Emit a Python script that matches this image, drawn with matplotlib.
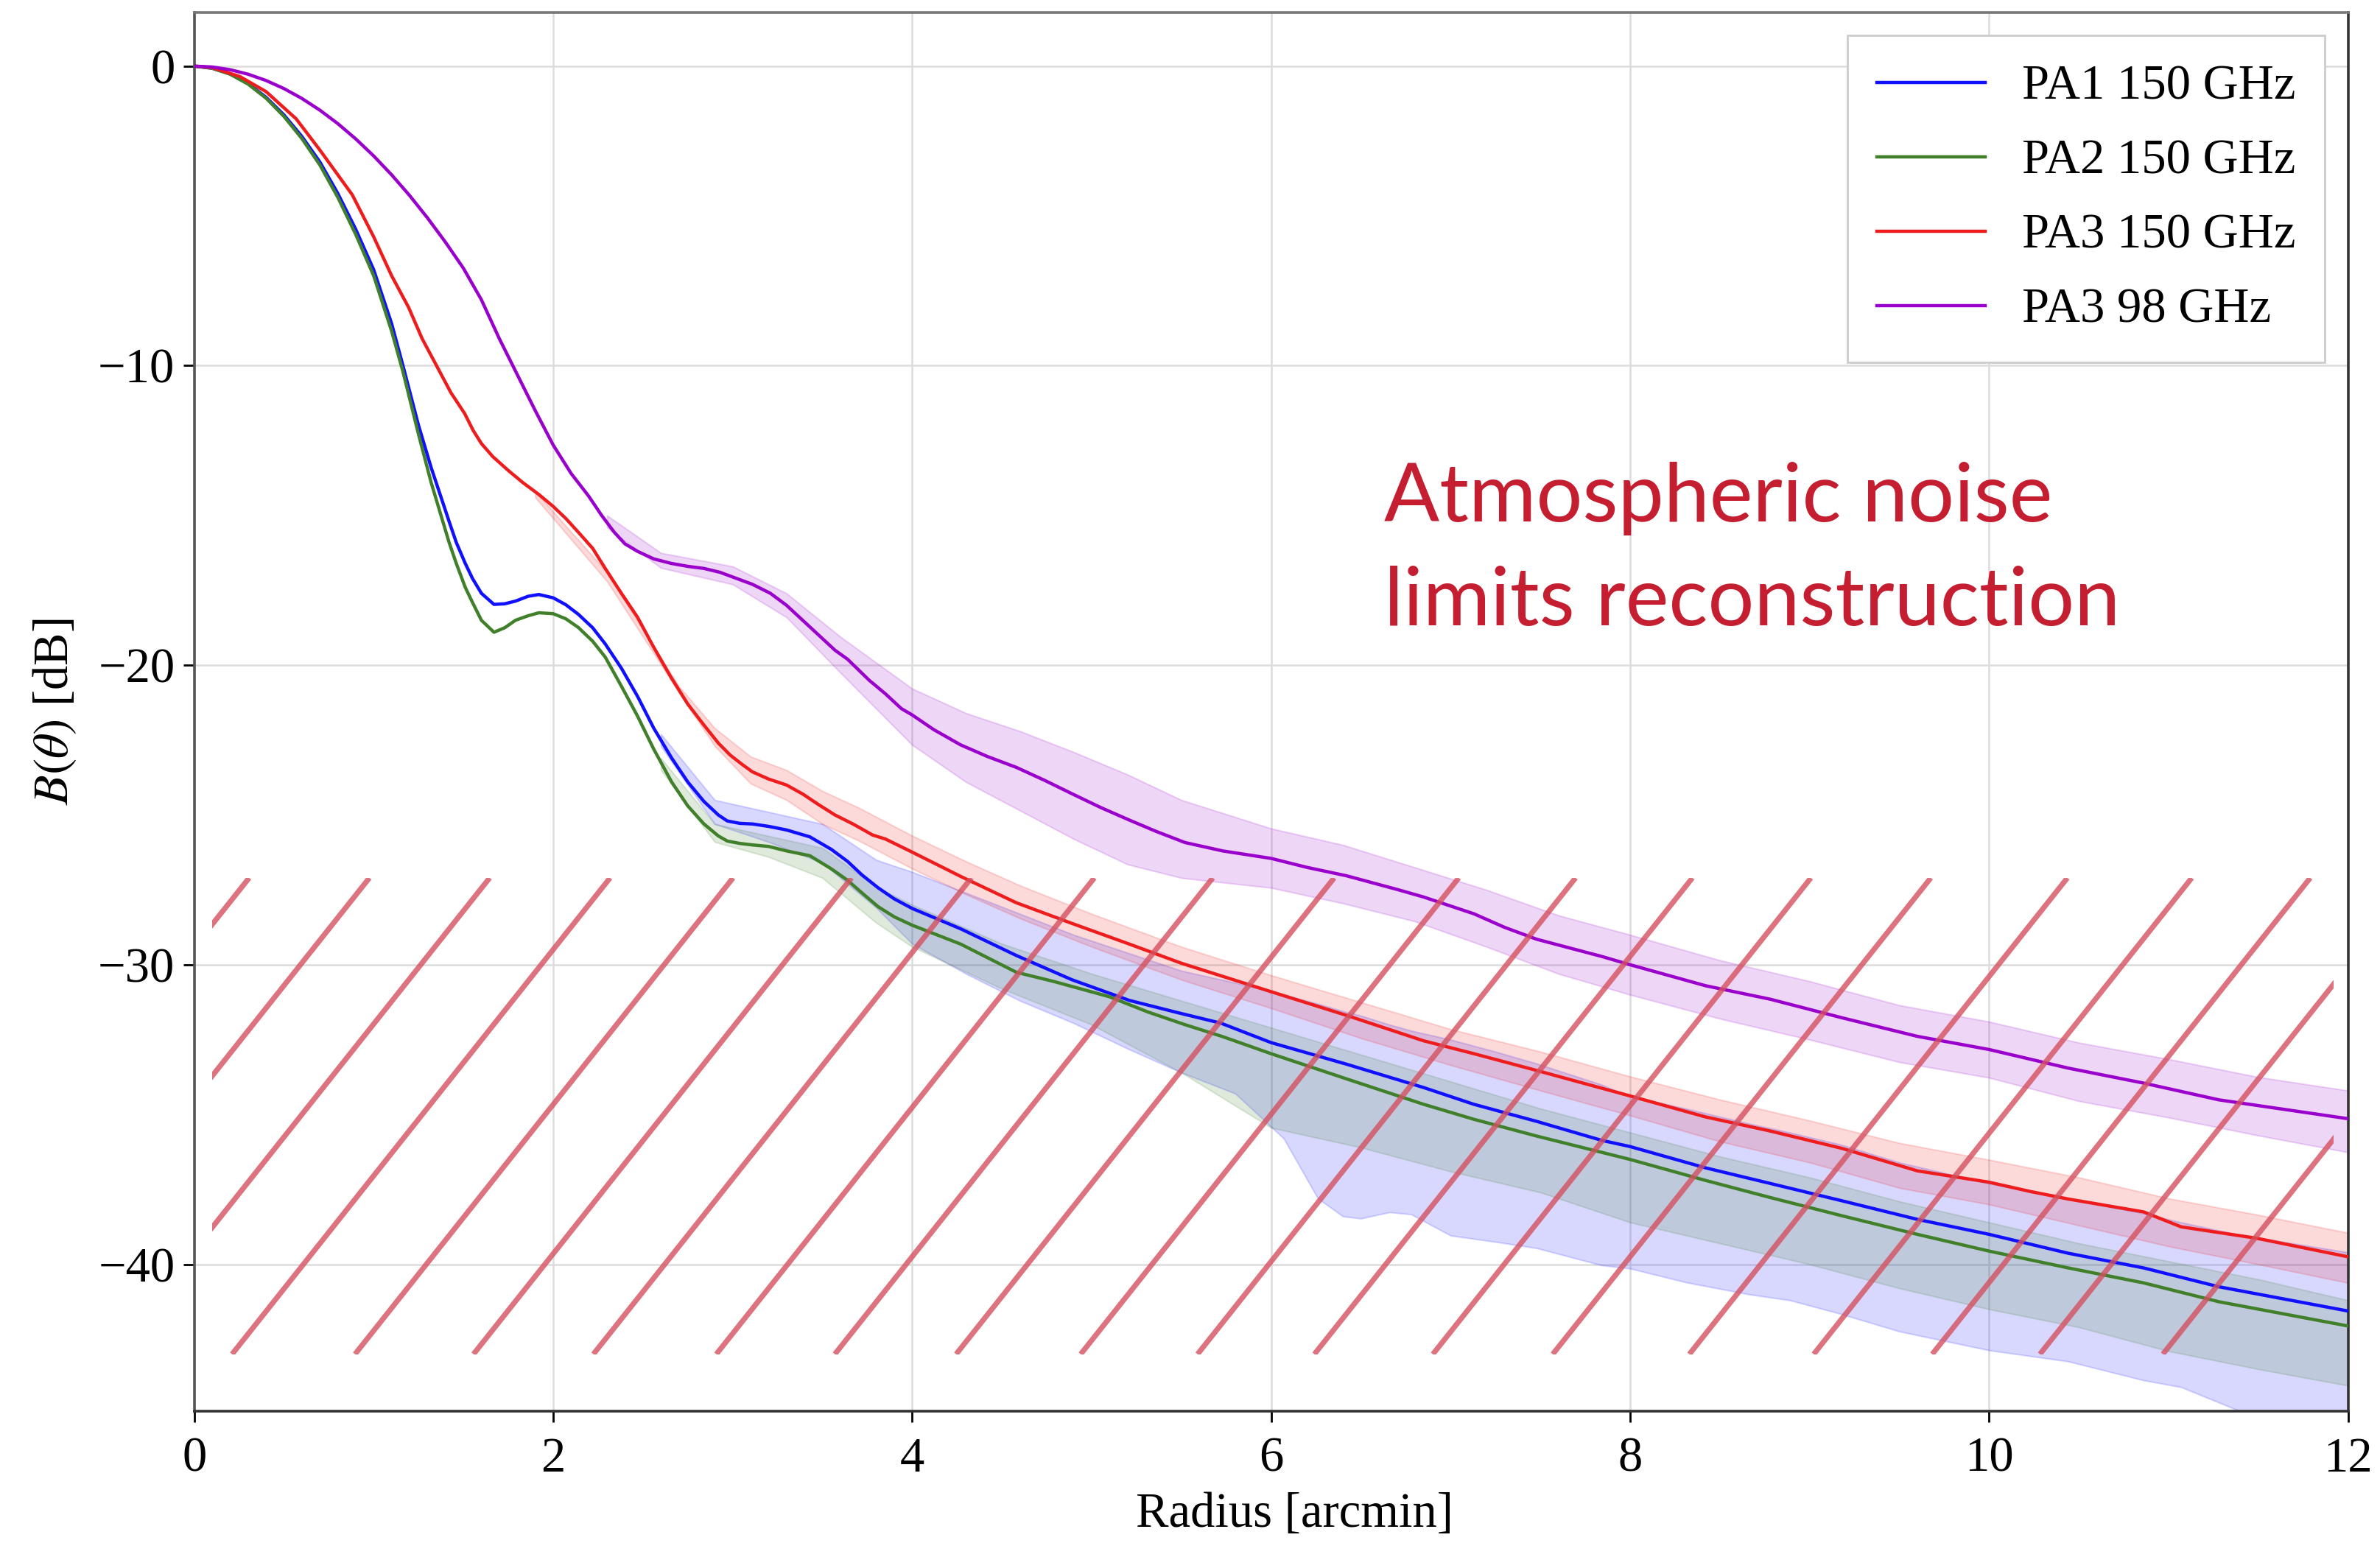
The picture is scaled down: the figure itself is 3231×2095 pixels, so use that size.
import numpy as np
import matplotlib
matplotlib.use("Agg")
import matplotlib.pyplot as plt
from matplotlib.patches import Rectangle

plt.rcParams['font.family'] = ['Liberation Serif', 'DejaVu Serif']
plt.rcParams['mathtext.fontset'] = 'stix'

# ---- beam profiles (radius in arcmin, B in dB) ----
pa1_x = [0, 0.1, 0.2, 0.3, 0.4, 0.5, 0.6, 0.7, 0.8, 0.9, 1.0, 1.1, 1.163, 1.25, 1.32, 1.37,
         1.42, 1.46, 1.51, 1.55, 1.6, 1.67, 1.73, 1.79, 1.86, 1.92, 2.0, 2.07, 2.14, 2.22,
         2.29, 2.38, 2.47, 2.56, 2.66, 2.75, 2.84, 2.92, 2.97, 3.04, 3.11, 3.2, 3.3, 3.43,
         3.55, 3.64, 3.72, 3.81, 3.9, 4.0, 4.27, 4.58, 4.89, 5.21, 5.48, 5.72, 6.0, 6.42,
         6.85, 7.13, 7.48, 7.84, 8.0, 8.42, 8.78, 9.18, 9.6, 10.0, 10.44, 10.86, 11.28, 12.0]
pa1_y = [0, -0.07, -0.26, -0.58, -1.04, -1.63, -2.35, -3.2, -4.25, -5.45, -6.8, -8.6, -10.0,
         -12.0, -13.4, -14.3, -15.2, -15.9, -16.6, -17.1, -17.6, -17.97, -17.95, -17.86,
         -17.7, -17.64, -17.75, -17.98, -18.3, -18.75, -19.29, -20.1, -21.04, -22.1, -23.1,
         -23.9, -24.55, -25.0, -25.2, -25.28, -25.3, -25.38, -25.5, -25.73, -26.15, -26.55,
         -27.0, -27.43, -27.8, -28.12, -28.8, -29.69, -30.5, -31.19, -31.6, -31.95, -32.6,
         -33.32, -34.1, -34.66, -35.23, -35.86, -36.07, -36.78, -37.3, -37.88, -38.5, -39.0,
         -39.63, -40.12, -40.75, -41.56]

pa2_x = [0, 0.1, 0.2, 0.3, 0.4, 0.5, 0.6, 0.7, 0.8, 0.9, 1.0, 1.1, 1.163, 1.25, 1.32, 1.37,
         1.42, 1.46, 1.51, 1.55, 1.6, 1.67, 1.73, 1.79, 1.86, 1.92, 2.0, 2.07, 2.14, 2.22,
         2.29, 2.38, 2.47, 2.56, 2.66, 2.75, 2.84, 2.92, 2.97, 3.04, 3.11, 3.2, 3.3, 3.43,
         3.55, 3.64, 3.72, 3.81, 3.9, 4.0, 4.27, 4.58, 4.79, 5.1, 5.31, 5.52, 5.73, 6.0,
         6.42, 6.85, 7.13, 7.48, 8.0, 8.42, 8.78, 9.18, 9.6, 10.0, 10.44, 10.86, 11.28, 12.0]
pa2_y = [0, -0.07, -0.27, -0.6, -1.07, -1.68, -2.42, -3.3, -4.38, -5.62, -7.0, -8.85, -10.2,
         -12.3, -13.9, -14.9, -15.9, -16.6, -17.4, -17.9, -18.5, -18.9, -18.75, -18.5,
         -18.35, -18.25, -18.28, -18.45, -18.74, -19.2, -19.73, -20.7, -21.7, -22.8, -23.9,
         -24.7, -25.3, -25.7, -25.87, -25.95, -26.0, -26.05, -26.2, -26.36, -26.8, -27.18,
         -27.6, -28.06, -28.4, -28.68, -29.31, -30.25, -30.56, -31.07, -31.57, -32.0, -32.4,
         -32.97, -33.81, -34.66, -35.16, -35.72, -36.5, -37.2, -37.77, -38.38, -39.0, -39.56,
         -40.12, -40.62, -41.25, -42.06]

pa3_x = [0, 0.1, 0.255, 0.4, 0.568, 0.7, 0.881, 1.0, 1.1, 1.194, 1.27, 1.35, 1.43, 1.507,
         1.554, 1.6, 1.664, 1.75, 1.83, 1.92, 2.0, 2.07, 2.14, 2.22, 2.29, 2.38, 2.47, 2.56,
         2.656, 2.75, 2.84, 2.92, 2.986, 3.05, 3.11, 3.2, 3.3, 3.39, 3.48, 3.57, 3.67, 3.78,
         3.85, 4.0, 4.27, 4.58, 4.89, 5.21, 5.5, 6.0, 6.42, 6.85, 7.13, 7.48, 8.0, 8.42,
         8.78, 9.18, 9.6, 10.0, 10.23, 10.44, 10.86, 11.07, 11.49, 12.0]
pa3_y = [0, -0.05, -0.35, -0.85, -1.76, -2.8, -4.3, -5.7, -7.0, -8.05, -9.1, -10.0, -10.9,
         -11.6, -12.16, -12.6, -13.04, -13.5, -13.9, -14.3, -14.7, -15.1, -15.56, -16.1,
         -16.77, -17.6, -18.4, -19.4, -20.4, -21.3, -22.0, -22.6, -23.0, -23.3, -23.56, -23.8,
         -24.0, -24.3, -24.66, -25.0, -25.3, -25.67, -25.8, -26.24, -27.05, -27.93, -28.62,
         -29.31, -29.95, -30.9, -31.69, -32.54, -32.97, -33.53, -34.38, -35.08, -35.55,
         -36.13, -36.88, -37.26, -37.57, -37.82, -38.25, -38.75, -39.13, -39.75]

pa3_98_x = [0, 0.1, 0.2, 0.3, 0.4, 0.5, 0.6, 0.7, 0.8, 0.9, 1.0, 1.1, 1.2, 1.3, 1.4, 1.5,
            1.6, 1.7, 1.8, 1.9, 2.0, 2.1, 2.197, 2.27, 2.34, 2.4, 2.47, 2.56, 2.656, 2.75,
            2.84, 2.93, 3.02, 3.11, 3.21, 3.3, 3.39, 3.48, 3.57, 3.64, 3.76, 3.85, 3.94, 4.0,
            4.12, 4.27, 4.42, 4.58, 4.74, 4.89, 5.05, 5.21, 5.36, 5.52, 5.73, 6.0, 6.2, 6.42,
            6.71, 6.85, 7.13, 7.3, 7.48, 7.84, 8.0, 8.42, 8.78, 9.18, 9.6, 10.0, 10.44, 10.86,
            11.28, 12.0]
pa3_98_y = [0, -0.03, -0.12, -0.27, -0.48, -0.75, -1.08, -1.47, -1.92, -2.43, -3.0, -3.63,
            -4.32, -5.07, -5.88, -6.75, -7.8, -9.1, -10.3, -11.5, -12.65, -13.6, -14.35,
            -15.0, -15.56, -15.95, -16.2, -16.45, -16.6, -16.7, -16.77, -16.9, -17.1, -17.3,
            -17.6, -18.0, -18.5, -19.0, -19.5, -19.8, -20.5, -20.95, -21.45, -21.66, -22.15,
            -22.66, -23.05, -23.41, -23.85, -24.29, -24.75, -25.17, -25.55, -25.92, -26.2,
            -26.45, -26.75, -27.03, -27.5, -27.74, -28.3, -28.75, -29.15, -29.72, -30.0,
            -30.7, -31.15, -31.77, -32.39, -32.83, -33.45, -33.95, -34.51, -35.14]

# ---- uncertainty envelopes ----
pa1_band_x = [2.6, 2.9, 3.2, 3.5, 3.8, 4.0, 4.3, 4.6, 4.9, 5.2, 5.5, 5.8, 6.07, 6.26, 6.4,
              6.5, 6.66, 6.78, 7.0, 7.25, 7.48, 7.84, 8.0, 8.31, 8.66, 8.89, 9.17, 9.5, 10.0,
              10.44, 10.86, 11.07, 11.38, 12.0]
pa1_band_hi = [-22.3, -24.5, -24.9, -25.3, -26.5, -26.9, -27.6, -28.3, -29.0, -29.6, -30.2,
               -30.6, -31.0, -31.3, -31.55, -31.7, -32.0, -32.2, -32.5, -32.9, -33.3, -34.0,
               -34.4, -34.8, -35.3, -35.6, -36.0, -36.6, -37.3, -37.8, -38.3, -38.6, -39.0,
               -39.6]
pa1_band_lo = [-22.7, -25.3, -25.9, -26.6, -28.1, -29.3, -30.3, -31.2, -31.95, -32.8, -33.6,
               -34.3, -35.8, -37.8, -38.4, -38.47, -38.26, -38.33, -39.04, -39.25, -39.46,
               -40.03, -40.14, -40.6, -41.0, -41.2, -41.65, -42.24, -42.87, -43.24, -43.87,
               -44.1, -44.86, -45.6]

pa2_band_x = [2.6, 2.9, 3.2, 3.5, 3.8, 4.0, 4.5, 5.0, 5.5, 6.0, 6.5, 7.0, 7.5, 8.0, 8.5,
              9.0, 9.5, 10.0, 10.5, 11.0, 11.5, 12.0]
pa2_band_hi = [-23.1, -25.3, -25.7, -26.1, -27.4, -28.0, -29.3, -30.3, -31.2, -32.1, -33.0,
               -33.9, -34.8, -35.6, -36.4, -37.1, -37.9, -38.6, -39.3, -39.9, -40.5, -41.2]
pa2_band_lo = [-23.5, -25.9, -26.4, -27.1, -28.6, -29.4, -30.8, -32.0, -33.6, -35.44, -36.1,
               -36.9, -37.6, -38.6, -39.3, -40.0, -40.8, -41.5, -42.1, -42.9, -43.5, -44.05]

pa3_band_x = [1.9, 2.3, 2.7, 2.9, 3.1, 3.3, 3.5, 3.7, 4.0, 4.3, 4.6, 5.0, 5.5, 6.0, 6.5, 7.0,
              7.5, 8.0, 8.5, 9.0, 9.5, 10.0, 10.5, 11.0, 11.5, 12.0]
pa3_band_hi = [-14.2, -16.9, -20.7, -22.1, -23.05, -23.5, -24.2, -24.75, -25.69, -26.55,
               -27.35, -28.3, -29.4, -30.35, -31.25, -32.15, -32.9, -33.73, -34.5, -35.2,
               -35.95, -36.51, -37.1, -37.8, -38.35, -38.95]
pa3_band_lo = [-14.4, -17.2, -20.9, -22.7, -23.95, -24.5, -25.3, -25.85, -26.79, -27.65,
               -28.45, -29.4, -30.5, -31.45, -32.45, -33.35, -34.2, -35.03, -35.9, -36.6,
               -37.45, -38.0, -38.7, -39.4, -40.0, -40.62]

pa3_98_band_x = [2.3, 2.6, 3.0, 3.3, 3.6, 4.0, 4.3, 4.6, 4.9, 5.2, 5.5, 6.0, 6.4, 6.8, 7.2,
                 7.6, 8.0, 8.5, 9.0, 9.5, 10.0, 10.5, 11.0, 11.5, 12.0]
pa3_98_band_hi = [-15.0, -16.25, -16.7, -17.6, -19.05, -20.78, -21.6, -22.2, -22.9, -23.65,
                  -24.5, -25.45, -26.0, -26.75, -27.5, -28.35, -29.0, -29.85, -30.55, -31.35,
                  -31.9, -32.6, -33.15, -33.75, -34.2]
pa3_98_band_lo = [-15.4, -16.75, -17.3, -18.4, -20.25, -22.66, -23.9, -24.85, -25.8, -26.65,
                  -27.1, -27.43, -27.95, -28.55, -29.4, -30.3, -31.0, -31.8, -32.5, -33.25,
                  -33.77, -34.55, -35.1, -35.7, -36.26]

labels = ['PA1 150 GHz', 'PA2 150 GHz', 'PA3 150 GHz', 'PA3 98 GHz']
colors = ['#1010ff', '#41802a', '#ee1c1c', '#9a00cc']

# hatched "noise floor" region: where each stroke meets the bottom edge
hatch_starts = [-1.80, -1.13, -0.46, 0.211, 0.896, 1.556, 2.224, 2.909, 3.569, 4.245, 4.939,
                5.590, 6.241, 6.901, 7.569, 8.330, 9.023, 9.683, 10.283, 10.968]
hatch_bottom, hatch_top = -43.0, -27.1
hatch_left, hatch_right = 0.1, 11.92
hatch_slope = 7.55  # dB per arcmin

note_lines = ['Atmospheric noise', 'limits reconstruction']

fig = plt.figure(figsize=(32.31, 20.95), dpi=100)
ax = fig.add_axes([0.0816, 0.0855, 0.905, 0.9066])

series = [(pa1_x, pa1_y, pa1_band_x, pa1_band_lo, pa1_band_hi),
          (pa2_x, pa2_y, pa2_band_x, pa2_band_lo, pa2_band_hi),
          (pa3_x, pa3_y, pa3_band_x, pa3_band_lo, pa3_band_hi),
          (pa3_98_x, pa3_98_y, pa3_98_band_x, pa3_98_band_lo, pa3_98_band_hi)]

for (x, y, bx, lo, hi), lab, c in zip(series, labels, colors):
    ax.fill_between(bx, lo, hi, color=c, alpha=0.16, lw=1.5, zorder=2)
    ax.plot(x, y, color=c, lw=3.2, label=lab, zorder=3)

# diagonal strokes clipped to a box
clip = Rectangle((hatch_left, hatch_bottom), hatch_right - hatch_left,
                 hatch_top - hatch_bottom, transform=ax.transData,
                 facecolor='none', edgecolor='none')
ax.add_patch(clip)
dx = (hatch_top - hatch_bottom) / hatch_slope
for x0 in hatch_starts:
    ln, = ax.plot([x0, x0 + dx], [hatch_bottom, hatch_top], color='#d4505f', alpha=0.8,
                  lw=5.2, solid_capstyle='butt', zorder=4)
    ln.set_clip_path(clip)

ax.text(6.63, -15.19, note_lines[0], color='#c41e30', fontsize=80, family='Lato',
        va='baseline', ha='left', zorder=5)
ax.text(6.63, -18.68, note_lines[1], color='#c41e30', fontsize=80, family='Lato',
        va='baseline', ha='left', zorder=5)

ax.set_xlim(0, 12)
ax.set_ylim(-44.9, 1.8)
ax.set_xticks(np.arange(0, 13, 2))
ax.set_yticks([0, -10, -20, -30, -40])
ax.grid(True, color='#dcdcdc', lw=1.8, zorder=0)
ax.set_axisbelow(True)
ax.tick_params(labelsize=48, length=11, width=2, direction='out', pad=8)
ax.tick_params(axis='x', pad=14)
for side in ['left', 'right', 'top', 'bottom']:
    ax.spines[side].set_linewidth(2.6)
    ax.spines[side].set_color('#333333')
ax.spines['left'].set_color('#555555')
ax.spines['top'].set_color('#777777')

ax.set_xlabel('Radius [arcmin]', fontsize=48)
ax.set_ylabel(r'$B(\theta)$ [dB]', fontsize=48)
ax.xaxis.set_label_coords(0.511, -0.058)
ax.yaxis.set_label_coords(-0.054, 0.5)

leg = ax.legend(loc='upper right', fontsize=48, frameon=True, fancybox=False,
                edgecolor='#cccccc', framealpha=1, handlelength=2.2, handletextpad=0.75,
                labelspacing=0.6, borderpad=0.6, borderaxespad=0.47)
leg.get_frame().set_linewidth(2)

fig.savefig('out.png', dpi=100)
